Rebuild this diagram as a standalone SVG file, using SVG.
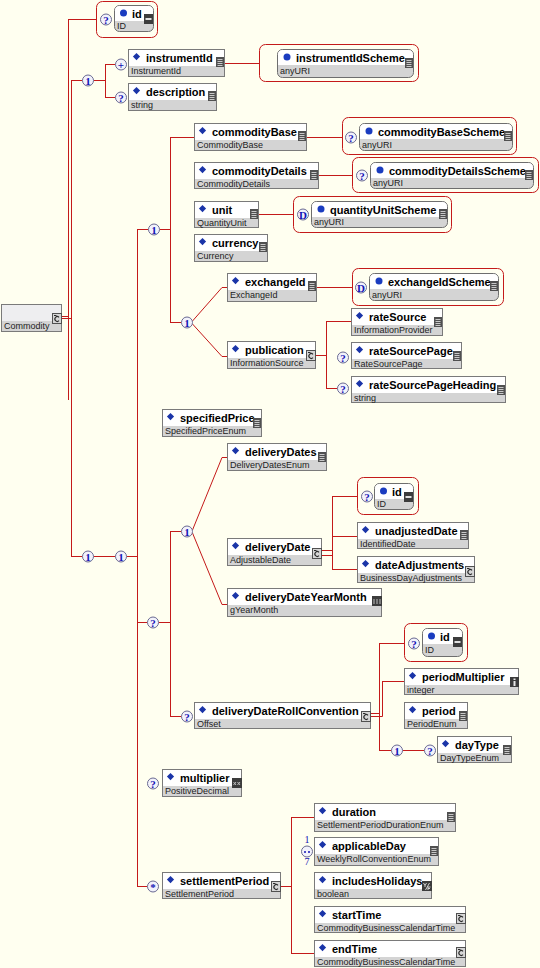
<svg xmlns="http://www.w3.org/2000/svg" xmlns:xlink="http://www.w3.org/1999/xlink" width="540" height="968" viewBox="0 0 540 968">
<style>
.ln{stroke:#c41a1a;stroke-width:1;fill:none}
.rg{fill:none;stroke:#c41a1a;stroke-width:1}
.eb{fill:#ffffff;stroke:#7a7a7a}
.bd{fill:#d4d4d4}
.ab{fill:#d4d4d4;stroke:#6e6e6e}
.at{fill:#ffffff}
.dm{fill:#1a34a8}
.ad{fill:#1a3cc0}
.nm{font-family:"Liberation Sans",Arial,sans-serif;font-weight:bold;font-size:11px;fill:#000}
.ty{font-family:"Liberation Sans",Arial,sans-serif;font-size:9px;fill:#222}
.cc{fill:#f2f2fb;stroke:#6a6a92}
.ct{font-family:"Liberation Serif","Times New Roman",serif;font-weight:bold;font-size:11px;fill:#1212b4;text-anchor:middle}
.cn{font-family:"Liberation Serif","Times New Roman",serif;font-size:10px;fill:#1212b4;text-anchor:middle}
</style>
<defs>
<symbol id="i-l" width="9" height="10" overflow="visible">
<rect x="0" y="0" width="8" height="10" fill="#505050"/>
<path d="M1.5 2.5H6.5M1.5 4.5H6.5M1.5 6.5H6.5M1.5 8.5H6.5" stroke="#c8c8c8" stroke-width="1"/>
</symbol>
<symbol id="i-m" width="10" height="10" overflow="visible">
<rect x="0" y="0" width="9" height="10" fill="#3c3c3c"/>
<rect x="1.5" y="4" width="6" height="2" fill="#e0e0e0"/>
</symbol>
<symbol id="i-c" width="10" height="11" overflow="visible">
<rect x="0.5" y="0.5" width="9" height="10" fill="#d6d6d6" stroke="#505050"/>
<path d="M7 4.3A2.4 2.4 0 1 0 7 7.7" stroke="#2a2a2a" fill="none" stroke-width="1.1"/>
<path d="M2 2.5H4.5" stroke="#2a2a2a"/>
</symbol>
<symbol id="i-i" width="9" height="10" overflow="visible">
<rect x="0" y="0" width="9" height="10" fill="#3c3c3c"/>
<rect x="3.5" y="1.5" width="2" height="1.5" fill="#e8e8e8"/>
<rect x="3.5" y="4" width="2" height="5" fill="#e8e8e8"/>
</symbol>
<symbol id="i-ym" width="10" height="10" overflow="visible">
<rect x="0" y="0" width="10" height="10" fill="#3c3c3c"/>
<path d="M2 3V8M5 3V8M8 3V8" stroke="#bdbdbd"/>
</symbol>
<symbol id="i-x" width="10" height="10" overflow="visible">
<rect x="0" y="0" width="10" height="10" fill="#3c3c3c"/>
<path d="M1.5 4L4 7M4 4L1.5 7M5.5 4L8 7M8 4L5.5 7" stroke="#bdbdbd"/>
</symbol>
<symbol id="i-yf" width="10" height="10" overflow="visible">
<rect x="0" y="0" width="10" height="10" fill="#3c3c3c"/>
<path d="M1.5 2L3 4.5L4.5 2M3 4.5V6M7.5 2L3.5 9M6 6H8.5M6 6V9M6 7.5H8" stroke="#d0d0d0" fill="none"/>
</symbol>
</defs>
<rect x="0" y="0" width="540" height="968" fill="#fffff0"/>

<g id="connectors">
<path class="ln" d="M62 316.5H68.5M68.5 19V400M62 318.5H71.5M71.5 80V556.5"/>
<path class="ln" d="M68 19.5H96.5"/>
<path class="ln" d="M71 80.5H82.5M93.5 80.5H105.5M105.5 64V97.5M105 64.5H115.5M105 97.5H115.5"/>
<path class="ln" d="M225 63.5H259.5"/>
<path class="ln" d="M71 556.5H82.5M93.5 556.5H115.5M126.5 556.5H137.5M137.5 229V886.5"/>
<path class="ln" d="M137 229.5H148.5M159.5 229.5H170.5M170.5 137V322.5"/>
<path class="ln" d="M170 137.5H194M307 137.5H342.5"/>
<path class="ln" d="M319 175.5H352.5"/>
<path class="ln" d="M259 214.5H293.5"/>
<path class="ln" d="M170 322.5H181.5"/>
<path class="ln" d="M192.5 321L222 287.5H227M192.5 324L222 356.5H227"/>
<path class="ln" d="M317 287.5H352.5"/>
<path class="ln" d="M316 355.5H326.5M326.5 321V388.5M326 321.5H351M326 388.5H337.5"/>
<path class="ln" d="M137 622.5H147.5M158.5 622.5H170.5M170.5 531V716.5"/>
<path class="ln" d="M170 531.5H181.5"/>
<path class="ln" d="M192.5 530L222 457.5H227M192.5 533L222 604.5H227"/>
<path class="ln" d="M322 550.5H332.5M322 555.5H332.5M332.5 496V569.5M332 496.5H357.5M332 536.5H357M332 569.5H357"/>
<path class="ln" d="M170 716.5H181.5"/>
<path class="ln" d="M371 713.5H379.5M371 716.5H382.5M379.5 643V750.5M382.5 681V716.5M379 643.5H404.5M382 681.5H404M379 750.5H391.5M402.5 750.5H424.5"/>
<path class="ln" d="M137 886.5H147.5M281 886.5H291.5M291.5 817V953.5M291 817.5H314M291 953.5H314"/>
</g>

<g id="Commodity" transform="translate(1,304)">
<rect x=".5" y=".5" width="60" height="27" fill="#eeeef0" stroke="#7a7a7a"/>
<rect x="1" y="17" width="59" height="10" class="bd"/>
<text class="ty" x="3" y="25">Commodity</text>
<use href="#i-c" x="51" y="9"/>
</g>

<g id="attr-id-1">
<rect class="rg" x="96.5" y="1.5" width="61" height="36" rx="6"/>
<circle class="cc" cx="106" cy="19.5" r="5.5"/><text class="ct" x="106" y="23.5">?</text>
<g transform="translate(114,5)">
<rect class="ab" x=".5" y=".5" width="39" height="26" rx="5"/>
<path class="at" d="M1 16V5.5Q1 1 5.5 1H34Q39 1 39 5.5V16Z"/>
<circle class="ad" cx="9.5" cy="8" r="3.5"/>
<text class="nm" x="18" y="12.5">id</text>
<text class="ty" x="3" y="24">ID</text>
<use href="#i-m" x="30" y="9"/>
</g>
</g>

<g id="seq-1"><circle class="cc" cx="88" cy="80.5" r="5.5"/><text class="ct" x="88" y="84.5">1</text></g>

<g id="instrumentId">
<circle class="cc" cx="121" cy="64.5" r="5.5"/><text class="ct" x="121" y="68.5">+</text>
<g transform="translate(128,49)">
<rect class="eb" x=".5" y=".5" width="96" height="27"/><rect class="bd" x="1" y="17" width="95" height="10"/>
<path class="dm" d="M8.5 4l3.6 3.6-3.6 3.6-3.6-3.6z"/>
<text class="nm" x="18" y="13">instrumentId</text><text class="ty" x="3" y="25">InstrumentId</text>
<use href="#i-l" x="88" y="8"/>
</g>
</g>

<g id="instrumentIdScheme">
<rect class="rg" x="259.5" y="44.5" width="159" height="37" rx="6"/>
<g transform="translate(277,49)">
<rect class="ab" x=".5" y=".5" width="136" height="28" rx="5"/>
<path class="at" d="M1 16V5.5Q1 1 5.5 1H131Q136 1 136 5.5V16Z"/>
<circle class="ad" cx="10" cy="8" r="3.5"/>
<text class="nm" x="19" y="13">instrumentIdScheme</text><text class="ty" x="3" y="25">anyURI</text>
<use href="#i-l" x="128" y="9"/>
</g>
</g>

<g id="description">
<circle class="cc" cx="121" cy="97.5" r="5.5"/><text class="ct" x="121" y="101.5">?</text>
<g transform="translate(128,83)">
<rect class="eb" x=".5" y=".5" width="88" height="27"/><rect class="bd" x="1" y="17" width="87" height="10"/>
<path class="dm" d="M8.5 4l3.6 3.6-3.6 3.6-3.6-3.6z"/>
<text class="nm" x="18" y="13">description</text><text class="ty" x="3" y="25">string</text>
<use href="#i-l" x="80" y="8"/>
</g>
</g>

<g id="seq-2"><circle class="cc" cx="88" cy="556.5" r="5.5"/><text class="ct" x="88" y="560.5">1</text></g>
<g id="seq-3"><circle class="cc" cx="121" cy="556.5" r="5.5"/><text class="ct" x="121" y="560.5">1</text></g>
<g id="seq-4"><circle class="cc" cx="154" cy="229.5" r="5.5"/><text class="ct" x="154" y="233.5">1</text></g>

<g id="commodityBase" transform="translate(194,123)">
<rect class="eb" x=".5" y=".5" width="112" height="27"/><rect class="bd" x="1" y="17" width="111" height="10"/>
<path class="dm" d="M8.5 4l3.6 3.6-3.6 3.6-3.6-3.6z"/>
<text class="nm" x="18" y="13">commodityBase</text><text class="ty" x="3" y="25">CommodityBase</text>
<use href="#i-l" x="104" y="8"/>
</g>

<g id="commodityBaseScheme">
<rect class="rg" x="342.5" y="117.5" width="174" height="37" rx="6"/>
<circle class="cc" cx="351" cy="137.5" r="5.5"/><text class="ct" x="351" y="141.5">?</text>
<g transform="translate(359,123)">
<rect class="ab" x=".5" y=".5" width="153" height="27" rx="5"/>
<path class="at" d="M1 16V5.5Q1 1 5.5 1H148Q153 1 153 5.5V16Z"/>
<circle class="ad" cx="10" cy="8" r="3.5"/>
<text class="nm" x="19" y="13">commodityBaseScheme</text><text class="ty" x="3" y="25">anyURI</text>
<use href="#i-l" x="145" y="8"/>
</g>
</g>

<g id="commodityDetails" transform="translate(194,162)">
<rect class="eb" x=".5" y=".5" width="124" height="26"/><rect class="bd" x="1" y="17" width="123" height="9"/>
<path class="dm" d="M8.5 4l3.6 3.6-3.6 3.6-3.6-3.6z"/>
<text class="nm" x="18" y="13">commodityDetails</text><text class="ty" x="3" y="25">CommodityDetails</text>
<use href="#i-l" x="116" y="8"/>
</g>

<g id="commodityDetailsScheme">
<rect class="rg" x="352.5" y="157.5" width="186" height="35" rx="6"/>
<circle class="cc" cx="362" cy="175.5" r="5.5"/><text class="ct" x="362" y="179.5">?</text>
<g transform="translate(370,162)">
<rect class="ab" x=".5" y=".5" width="163" height="26" rx="5"/>
<path class="at" d="M1 16V5.5Q1 1 5.5 1H158Q163 1 163 5.5V16Z"/>
<circle class="ad" cx="10" cy="8" r="3.5"/>
<text class="nm" x="19" y="13">commodityDetailsScheme</text><text class="ty" x="3" y="24">anyURI</text>
<use href="#i-l" x="155" y="8"/>
</g>
</g>

<g id="unit" transform="translate(194,201)">
<rect class="eb" x=".5" y=".5" width="64" height="26"/><rect class="bd" x="1" y="17" width="63" height="9"/>
<path class="dm" d="M8.5 4l3.6 3.6-3.6 3.6-3.6-3.6z"/>
<text class="nm" x="18" y="13">unit</text><text class="ty" x="3" y="25">QuantityUnit</text>
<use href="#i-l" x="56" y="8"/>
</g>

<g id="quantityUnitScheme">
<rect class="rg" x="293.5" y="196.5" width="158" height="36" rx="6"/>
<circle class="cc" cx="303" cy="214.5" r="5.5"/><text class="ct" x="303" y="218.5">D</text>
<g transform="translate(311,201)">
<rect class="ab" x=".5" y=".5" width="136" height="26" rx="5"/>
<path class="at" d="M1 16V5.5Q1 1 5.5 1H131Q136 1 136 5.5V16Z"/>
<circle class="ad" cx="10" cy="8" r="3.5"/>
<text class="nm" x="19" y="13">quantityUnitScheme</text><text class="ty" x="3" y="24">anyURI</text>
<use href="#i-l" x="128" y="8"/>
</g>
</g>

<g id="currency" transform="translate(194,234)">
<rect class="eb" x=".5" y=".5" width="73" height="27"/><rect class="bd" x="1" y="17" width="72" height="10"/>
<path class="dm" d="M8.5 4l3.6 3.6-3.6 3.6-3.6-3.6z"/>
<text class="nm" x="18" y="13">currency</text><text class="ty" x="3" y="25">Currency</text>
<use href="#i-l" x="65" y="8"/>
</g>

<g id="choice-1"><circle class="cc" cx="187" cy="322.5" r="5.5"/><text class="ct" x="187" y="326.5">1</text></g>

<g id="exchangeId" transform="translate(227,273)">
<rect class="eb" x=".5" y=".5" width="89" height="28"/><rect class="bd" x="1" y="17" width="88" height="11"/>
<path class="dm" d="M8.5 4l3.6 3.6-3.6 3.6-3.6-3.6z"/>
<text class="nm" x="18" y="13">exchangeId</text><text class="ty" x="3" y="25">ExchangeId</text>
<use href="#i-l" x="81" y="8"/>
</g>

<g id="exchangeIdScheme">
<rect class="rg" x="352.5" y="268.5" width="151" height="37" rx="6"/>
<circle class="cc" cx="361" cy="287.5" r="5.5"/><text class="ct" x="361" y="291.5">D</text>
<g transform="translate(369,273)">
<rect class="ab" x=".5" y=".5" width="129" height="27" rx="5"/>
<path class="at" d="M1 16V5.5Q1 1 5.5 1H124Q129 1 129 5.5V16Z"/>
<circle class="ad" cx="10" cy="8" r="3.5"/>
<text class="nm" x="19" y="13">exchangeIdScheme</text><text class="ty" x="3" y="25">anyURI</text>
<use href="#i-l" x="121" y="8"/>
</g>
</g>

<g id="publication" transform="translate(227,341)">
<rect class="eb" x=".5" y=".5" width="88" height="27"/><rect class="bd" x="1" y="17" width="87" height="10"/>
<path class="dm" d="M8.5 4l3.6 3.6-3.6 3.6-3.6-3.6z"/>
<text class="nm" x="18" y="13">publication</text><text class="ty" x="3" y="25">InformationSource</text>
<use href="#i-c" x="79" y="9"/>
</g>

<g id="rateSource" transform="translate(351,308)">
<rect class="eb" x=".5" y=".5" width="91" height="27"/><rect class="bd" x="1" y="17" width="90" height="10"/>
<path class="dm" d="M8.5 4l3.6 3.6-3.6 3.6-3.6-3.6z"/>
<text class="nm" x="18" y="13">rateSource</text><text class="ty" x="3" y="25">InformationProvider</text>
<use href="#i-l" x="83" y="9"/>
</g>

<g id="rateSourcePage">
<circle class="cc" cx="343" cy="357.5" r="5.5"/><text class="ct" x="343" y="361.5">?</text>
<g transform="translate(351,342)">
<rect class="eb" x=".5" y=".5" width="110" height="26"/><rect class="bd" x="1" y="17" width="109" height="9"/>
<path class="dm" d="M8.5 4l3.6 3.6-3.6 3.6-3.6-3.6z"/>
<text class="nm" x="18" y="13">rateSourcePage</text><text class="ty" x="3" y="25">RateSourcePage</text>
<use href="#i-l" x="102" y="9"/>
</g>
</g>

<g id="rateSourcePageHeading">
<circle class="cc" cx="343" cy="388.5" r="5.5"/><text class="ct" x="343" y="392.5">?</text>
<g transform="translate(351,376)">
<rect class="eb" x=".5" y=".5" width="154" height="26"/><rect class="bd" x="1" y="17" width="153" height="9"/>
<path class="dm" d="M8.5 4l3.6 3.6-3.6 3.6-3.6-3.6z"/>
<text class="nm" x="18" y="13">rateSourcePageHeading</text><text class="ty" x="3" y="25">string</text>
<use href="#i-l" x="146" y="9"/>
</g>
</g>

<g id="specifiedPrice" transform="translate(162,409)">
<rect class="eb" x=".5" y=".5" width="99" height="27"/><rect class="bd" x="1" y="17" width="98" height="10"/>
<path class="dm" d="M8.5 4l3.6 3.6-3.6 3.6-3.6-3.6z"/>
<text class="nm" x="18" y="13">specifiedPrice</text><text class="ty" x="3" y="25">SpecifiedPriceEnum</text>
<use href="#i-l" x="91" y="9"/>
</g>

<g id="choice-2"><circle class="cc" cx="187" cy="531.5" r="5.5"/><text class="ct" x="187" y="535.5">1</text></g>
<g id="opt-1"><circle class="cc" cx="153" cy="622.5" r="5.5"/><text class="ct" x="153" y="626.5">?</text></g>

<g id="deliveryDates" transform="translate(227,443)">
<rect class="eb" x=".5" y=".5" width="99" height="27"/><rect class="bd" x="1" y="17" width="98" height="10"/>
<path class="dm" d="M8.5 4l3.6 3.6-3.6 3.6-3.6-3.6z"/>
<text class="nm" x="18" y="13">deliveryDates</text><text class="ty" x="3" y="25">DeliveryDatesEnum</text>
<use href="#i-l" x="91" y="9"/>
</g>

<g id="deliveryDate" transform="translate(227,538)">
<rect class="eb" x=".5" y=".5" width="94" height="27"/><rect class="bd" x="1" y="17" width="93" height="10"/>
<path class="dm" d="M8.5 4l3.6 3.6-3.6 3.6-3.6-3.6z"/>
<text class="nm" x="18" y="13">deliveryDate</text><text class="ty" x="3" y="25">AdjustableDate</text>
<use href="#i-c" x="85" y="10"/>
</g>

<g id="attr-id-2">
<rect class="rg" x="357.5" y="477.5" width="61" height="37" rx="6"/>
<circle class="cc" cx="367" cy="496.5" r="5.5"/><text class="ct" x="367" y="500.5">?</text>
<g transform="translate(374,483)">
<rect class="ab" x=".5" y=".5" width="39" height="26" rx="5"/>
<path class="at" d="M1 16V5.5Q1 1 5.5 1H34Q39 1 39 5.5V16Z"/>
<circle class="ad" cx="9.5" cy="8" r="3.5"/>
<text class="nm" x="18" y="12.5">id</text><text class="ty" x="3" y="24">ID</text>
<use href="#i-m" x="30" y="9"/>
</g>
</g>

<g id="unadjustedDate" transform="translate(357,522)">
<rect class="eb" x=".5" y=".5" width="111" height="26"/><rect class="bd" x="1" y="17" width="110" height="9"/>
<path class="dm" d="M8.5 4l3.6 3.6-3.6 3.6-3.6-3.6z"/>
<text class="nm" x="18" y="13">unadjustedDate</text><text class="ty" x="3" y="25">IdentifiedDate</text>
<use href="#i-l" x="103" y="8"/>
</g>

<g id="dateAdjustments" transform="translate(357,556)">
<rect class="eb" x=".5" y=".5" width="117" height="26"/><rect class="bd" x="1" y="17" width="116" height="9"/>
<path class="dm" d="M8.5 4l3.6 3.6-3.6 3.6-3.6-3.6z"/>
<text class="nm" x="18" y="13">dateAdjustments</text><text class="ty" x="3" y="25">BusinessDayAdjustments</text>
<use href="#i-c" x="108" y="10"/>
</g>

<g id="deliveryDateYearMonth" transform="translate(227,588)">
<rect class="eb" x=".5" y=".5" width="154" height="28"/><rect class="bd" x="1" y="17" width="153" height="11"/>
<path class="dm" d="M8.5 4l3.6 3.6-3.6 3.6-3.6-3.6z"/>
<text class="nm" x="18" y="13">deliveryDateYearMonth</text><text class="ty" x="3" y="25">gYearMonth</text>
<use href="#i-ym" x="145" y="8"/>
</g>

<g id="deliveryDateRollConvention">
<circle class="cc" cx="187" cy="716.5" r="5.5"/><text class="ct" x="187" y="720.5">?</text>
<g transform="translate(194,702)">
<rect class="eb" x=".5" y=".5" width="176" height="26"/><rect class="bd" x="1" y="17" width="175" height="9"/>
<path class="dm" d="M8.5 4l3.6 3.6-3.6 3.6-3.6-3.6z"/>
<text class="nm" x="18" y="13">deliveryDateRollConvention</text><text class="ty" x="3" y="25">Offset</text>
<use href="#i-c" x="167" y="9"/>
</g>
</g>

<g id="attr-id-3">
<rect class="rg" x="404.5" y="623.5" width="63" height="38" rx="6"/>
<circle class="cc" cx="414" cy="643.5" r="5.5"/><text class="ct" x="414" y="647.5">?</text>
<g transform="translate(422,628)">
<rect class="ab" x=".5" y=".5" width="40" height="28" rx="5"/>
<path class="at" d="M1 16V5.5Q1 1 5.5 1H35Q40 1 40 5.5V16Z"/>
<circle class="ad" cx="9.5" cy="8" r="3.5"/>
<text class="nm" x="18" y="12.5">id</text><text class="ty" x="3" y="25">ID</text>
<use href="#i-m" x="31" y="9"/>
</g>
</g>

<g id="periodMultiplier" transform="translate(404,668)">
<rect class="eb" x=".5" y=".5" width="114" height="26"/><rect class="bd" x="1" y="17" width="113" height="9"/>
<path class="dm" d="M8.5 4l3.6 3.6-3.6 3.6-3.6-3.6z"/>
<text class="nm" x="18" y="13">periodMultiplier</text><text class="ty" x="3" y="25">integer</text>
<use href="#i-i" x="106" y="9"/>
</g>

<g id="period" transform="translate(404,702)">
<rect class="eb" x=".5" y=".5" width="63" height="26"/><rect class="bd" x="1" y="17" width="62" height="9"/>
<path class="dm" d="M8.5 4l3.6 3.6-3.6 3.6-3.6-3.6z"/>
<text class="nm" x="18" y="13">period</text><text class="ty" x="3" y="25">PeriodEnum</text>
<use href="#i-l" x="55" y="9"/>
</g>

<g id="choice-3"><circle class="cc" cx="397" cy="750.5" r="5.5"/><text class="ct" x="397" y="754.5">1</text></g>

<g id="dayType">
<circle class="cc" cx="430" cy="750.5" r="5.5"/><text class="ct" x="430" y="754.5">?</text>
<g transform="translate(437,736)">
<rect class="eb" x=".5" y=".5" width="74" height="26"/><rect class="bd" x="1" y="17" width="73" height="9"/>
<path class="dm" d="M8.5 4l3.6 3.6-3.6 3.6-3.6-3.6z"/>
<text class="nm" x="18" y="13">dayType</text><text class="ty" x="3" y="25">DayTypeEnum</text>
<use href="#i-l" x="66" y="9"/>
</g>
</g>

<g id="multiplier">
<circle class="cc" cx="153" cy="783.5" r="5.5"/><text class="ct" x="153" y="787.5">?</text>
<g transform="translate(162,769)">
<rect class="eb" x=".5" y=".5" width="79" height="27"/><rect class="bd" x="1" y="17" width="78" height="10"/>
<path class="dm" d="M8.5 4l3.6 3.6-3.6 3.6-3.6-3.6z"/>
<text class="nm" x="18" y="13">multiplier</text><text class="ty" x="3" y="25">PositiveDecimal</text>
<use href="#i-x" x="70" y="9"/>
</g>
</g>

<g id="settlementPeriod">
<circle class="cc" cx="153" cy="886.5" r="5.5"/><text class="ct" x="153" y="891">*</text>
<g transform="translate(162,872)">
<rect class="eb" x=".5" y=".5" width="118" height="26"/><rect class="bd" x="1" y="17" width="117" height="9"/>
<path class="dm" d="M8.5 4l3.6 3.6-3.6 3.6-3.6-3.6z"/>
<text class="nm" x="18" y="13">settlementPeriod</text><text class="ty" x="3" y="25">SettlementPeriod</text>
<use href="#i-c" x="109" y="9"/>
</g>
</g>

<g id="duration" transform="translate(314,803)">
<rect class="eb" x=".5" y=".5" width="141" height="28"/><rect class="bd" x="1" y="17" width="140" height="11"/>
<path class="dm" d="M8.5 4l3.6 3.6-3.6 3.6-3.6-3.6z"/>
<text class="nm" x="18" y="13">duration</text><text class="ty" x="3" y="25">SettlementPeriodDurationEnum</text>
<use href="#i-l" x="133" y="9"/>
</g>

<g id="applicableDay">
<circle class="cc" cx="307" cy="851.5" r="5.5"/>
<circle cx="305" cy="852" r="1" fill="#1212b4"/><circle cx="309" cy="852" r="1" fill="#1212b4"/>
<text class="cn" x="307" y="843">1</text><text class="cn" x="307" y="865">7</text>
<g transform="translate(314,837)">
<rect class="eb" x=".5" y=".5" width="124" height="28"/><rect class="bd" x="1" y="17" width="123" height="11"/>
<path class="dm" d="M8.5 4l3.6 3.6-3.6 3.6-3.6-3.6z"/>
<text class="nm" x="18" y="13">applicableDay</text><text class="ty" x="3" y="25">WeeklyRollConventionEnum</text>
<use href="#i-l" x="116" y="9"/>
</g>
</g>

<g id="includesHolidays" transform="translate(314,872)">
<rect class="eb" x=".5" y=".5" width="117" height="26"/><rect class="bd" x="1" y="17" width="116" height="9"/>
<path class="dm" d="M8.5 4l3.6 3.6-3.6 3.6-3.6-3.6z"/>
<text class="nm" x="18" y="13">includesHolidays</text><text class="ty" x="3" y="25">boolean</text>
<use href="#i-yf" x="108" y="9"/>
</g>

<g id="startTime" transform="translate(314,906)">
<rect class="eb" x=".5" y=".5" width="151" height="26"/><rect class="bd" x="1" y="17" width="150" height="9"/>
<path class="dm" d="M8.5 4l3.6 3.6-3.6 3.6-3.6-3.6z"/>
<text class="nm" x="18" y="13">startTime</text><text class="ty" x="3" y="25">CommodityBusinessCalendarTime</text>
<use href="#i-c" x="142" y="7"/>
</g>

<g id="endTime" transform="translate(314,940)">
<rect class="eb" x=".5" y=".5" width="151" height="26"/><rect class="bd" x="1" y="17" width="150" height="9"/>
<path class="dm" d="M8.5 4l3.6 3.6-3.6 3.6-3.6-3.6z"/>
<text class="nm" x="18" y="13">endTime</text><text class="ty" x="3" y="25">CommodityBusinessCalendarTime</text>
<use href="#i-c" x="142" y="7"/>
</g>
</svg>
